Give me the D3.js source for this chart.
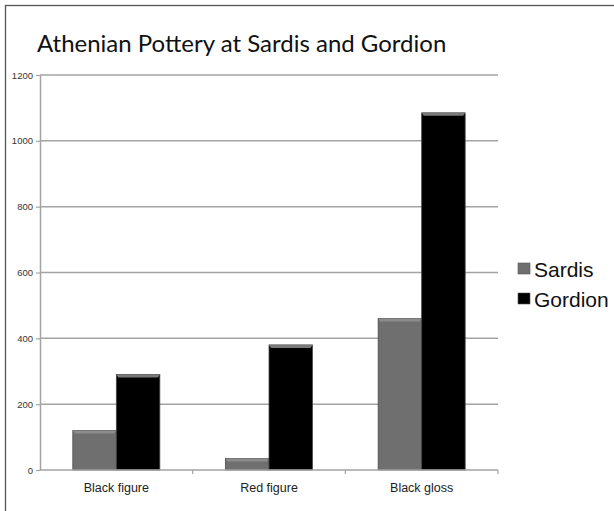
<!DOCTYPE html>
<html>
<head>
<meta charset="utf-8">
<script src="https://cdn.jsdelivr.net/npm/d3@7"></script>
<style>
  body { margin: 0; background: #fff; }
  svg { display: block; }
</style>
</head>
<body>
<svg width="614" height="511"></svg>
<script>
"use strict";

var categories = ["Black figure", "Red figure", "Black gloss"];
var seriesNames = ["Sardis", "Gordion"];
var sardis = [120, 35, 460];
var gordion = [290, 380, 1085];
var yTicks = [0, 200, 400, 600, 800, 1000, 1200];

var colors = { Sardis: "#6f6f6f", Gordion: "#000000" };
var capColors = { Sardis: "#8c8c8c", Gordion: "#7a7a7a" };

(function() {
var svg = d3.select("svg");

// frame of the slide
svg.append("rect")
  .attr("x", 5.5).attr("y", 5.5)
  .attr("width", 700).attr("height", 700)
  .attr("fill", "none")
  .attr("stroke", "#555")
  .attr("stroke-width", 1.3);

svg.append("text")
  .attr("x", 37).attr("y", 52)
  .attr("font-family", "Lato, 'Open Sans', sans-serif")
  .attr("font-size", 24)
  .attr("fill", "#111")
  .text("Athenian Pottery at Sardis and Gordion");

var mLeft = 40, mRight = 498, mTop = 75, mBottom = 470;

var x0 = d3.scaleBand().domain(categories).range([mLeft, mRight])
  .paddingInner(0.43).paddingOuter(0.215);
var x1 = d3.scaleBand().domain(seriesNames).range([0, x0.bandwidth()]);
var y = d3.scaleLinear().domain([0, 1200]).range([mBottom, mTop]);

var g = svg.append("g");

// gridlines
g.selectAll(".grid")
  .data(yTicks.slice(1))
  .enter().append("line")
  .attr("class", "grid")
  .attr("x1", mLeft).attr("x2", mRight)
  .attr("y1", function(d) { return y(d); })
  .attr("y2", function(d) { return y(d); })
  .attr("stroke", "#a3a3a3")
  .attr("stroke-width", 1.5);

// y axis
var yAxis = g.append("g")
  .attr("transform", "translate(" + mLeft + ",0)")
  .call(d3.axisLeft(y).tickValues(yTicks).tickSize(4).tickSizeOuter(0).tickPadding(3).tickFormat(d3.format("d")));
yAxis.select(".domain").attr("stroke", "#a3a3a3").attr("stroke-width", 1.5);
yAxis.selectAll(".tick line").attr("stroke", "#a3a3a3").attr("stroke-width", 1.2);
yAxis.selectAll("text")
  .attr("font-family", "'Liberation Sans', Arial, sans-serif")
  .attr("font-size", 9.5)
  .attr("fill", "#333");

// bars
var data = categories.map(function(c, i) {
  return { cat: c, values: [
    { name: "Sardis", value: sardis[i] },
    { name: "Gordion", value: gordion[i] }
  ] };
});

var groups = g.selectAll(".grp")
  .data(data)
  .enter().append("g")
  .attr("class", "grp")
  .attr("transform", function(d) { return "translate(" + x0(d.cat) + ",0)"; });

var bars = groups.selectAll(".bar")
  .data(function(d) { return d.values; })
  .enter().append("g")
  .attr("class", "bar");

bars.append("rect")
  .attr("x", function(d) { return x1(d.name); })
  .attr("y", function(d) { return y(d.value); })
  .attr("width", x1.bandwidth())
  .attr("height", function(d) { return mBottom - y(d.value); })
  .attr("fill", function(d) { return colors[d.name]; })
  .attr("stroke", "#4a4a4a")
  .attr("stroke-width", 0.8);

// little bevelled top face
bars.append("path")
  .attr("d", function(d) {
    var xa = x1(d.name), w = x1.bandwidth(), yt = y(d.value);
    return "M" + xa + "," + yt + "h" + w + "l-2,3h" + (-(w - 4)) + "z";
  })
  .attr("fill", function(d) { return capColors[d.name]; });

// x axis
var xAxisG = g.append("g").attr("transform", "translate(0," + mBottom + ")");
xAxisG.append("line")
  .attr("x1", mLeft).attr("x2", mRight)
  .attr("stroke", "#a3a3a3").attr("stroke-width", 1.5);
xAxisG.selectAll(".xtick")
  .data(categories)
  .enter().append("line")
  .attr("class", "xtick")
  .attr("x1", function(d) { return x0(d) + x0.bandwidth() + x0.step() * x0.paddingOuter(); })
  .attr("x2", function(d) { return x0(d) + x0.bandwidth() + x0.step() * x0.paddingOuter(); })
  .attr("y1", 0).attr("y2", 4)
  .attr("stroke", "#a3a3a3").attr("stroke-width", 1.2);
xAxisG.selectAll(".xlabel")
  .data(categories)
  .enter().append("text")
  .attr("class", "xlabel")
  .attr("x", function(d) { return x0(d) + x0.bandwidth() / 2; })
  .attr("y", 22)
  .attr("text-anchor", "middle")
  .attr("font-family", "'Liberation Sans', Arial, sans-serif")
  .attr("font-size", 12.5)
  .attr("fill", "#222")
  .text(function(d) { return d; });

// legend
var legend = svg.selectAll(".legend")
  .data(seriesNames)
  .enter().append("g")
  .attr("class", "legend")
  .attr("transform", function(d, i) { return "translate(518," + (263 + i * 30) + ")"; });
legend.append("rect")
  .attr("width", 12).attr("height", 11)
  .attr("fill", function(d) { return colors[d]; })
  .attr("stroke", "#555").attr("stroke-width", 0.6);
legend.append("text")
  .attr("x", 16).attr("y", 14)
  .attr("font-family", "'Liberation Sans', Arial, sans-serif")
  .attr("font-size", 21)
  .attr("fill", "#111")
  .text(function(d) { return d; });
})();
</script>
</body>
</html>
